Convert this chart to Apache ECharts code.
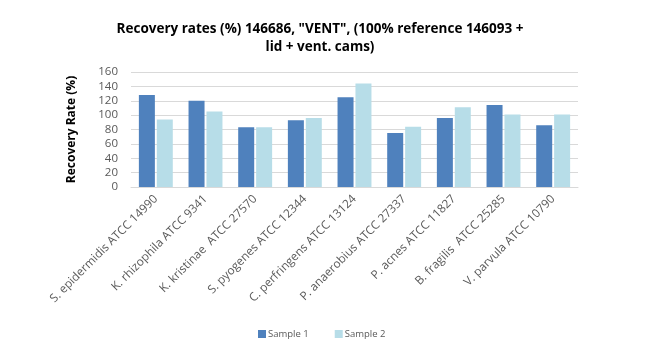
<!DOCTYPE html>
<html><head><meta charset="utf-8">
<script src="https://cdn.jsdelivr.net/npm/echarts@6/dist/echarts.min.js"></script>
<style>html,body{margin:0;padding:0;background:#fff}#c{width:653px;height:358px}</style>
</head><body><div id="c"></div>
<script>
const categories = ["S. epidermidis ATCC 14990","K. rhizophila ATCC 9341","K. kristinae  ATCC 27570","S. pyogenes ATCC 12344","C. perfringens ATCC 13124","P. anaerobius ATCC 27337","P. acnes ATCC 11827","B. fragilis  ATCC 25285","V. parvula ATCC 10790"];
const sample1 = [128, 120, 83, 93, 125, 75, 96, 114, 86];
const sample2 = [94, 105, 83, 96, 144, 84, 111, 101, 101];
const yTicks = [0, 20, 40, 60, 80, 100, 120, 140, 160];
const FONT = "Open Sans";
const chart = echarts.init(document.getElementById('c'));
chart.setOption({
  animation: false,
  textStyle: {fontFamily: FONT},
  title: {
    text: 'Recovery rates (%) 146686, "VENT", (100% reference 146093 +\nlid + vent. cams)',
    left: 315, top: 15, textAlign: 'center',
    textStyle: {fontFamily: FONT, fontSize: 13.5, fontWeight: 'bold', color: '#000', lineHeight: 18}
  },
  legend: {
    left: 253, top: 324, itemWidth: 8, itemHeight: 8, itemGap: 26,
    icon: 'rect',
    textStyle: {fontFamily: FONT, fontSize: 9.5, color: '#595959', padding: [0,0,0,-3]},
    data: ['Sample 1', 'Sample 2']
  },
  grid: {left: 131, right: 75, top: 72, bottom: 171},
  xAxis: {
    type: 'category', data: categories,
    axisTick: {show: false},
    axisLine: {lineStyle: {color: '#d9d9d9'}},
    axisLabel: {rotate: 45, interval: 0, fontSize: 11.8, color: '#595959', margin: 10}
  },
  yAxis: {
    type: 'value', min: yTicks[0], max: yTicks[yTicks.length-1], interval: 20,
    name: 'Recovery Rate (%)', nameLocation: 'middle', nameGap: 53, nameRotate: 90,
    nameTextStyle: {fontSize: 12, fontWeight: 'bold', color: '#000'},
    axisLine: {show: false}, axisTick: {show: false},
    axisLabel: {fontSize: 11.5, color: '#595959', margin: 13},
    splitLine: {lineStyle: {color: '#d9d9d9'}}
  },
  series: [
    {name: 'Sample 1', type: 'bar', data: sample1, barWidth: 16, barGap: '12%', itemStyle: {color: '#4f81bd'}},
    {name: 'Sample 2', type: 'bar', data: sample2, barWidth: 16, itemStyle: {color: '#b7dde8'}}
  ]
});
</script></body></html>
